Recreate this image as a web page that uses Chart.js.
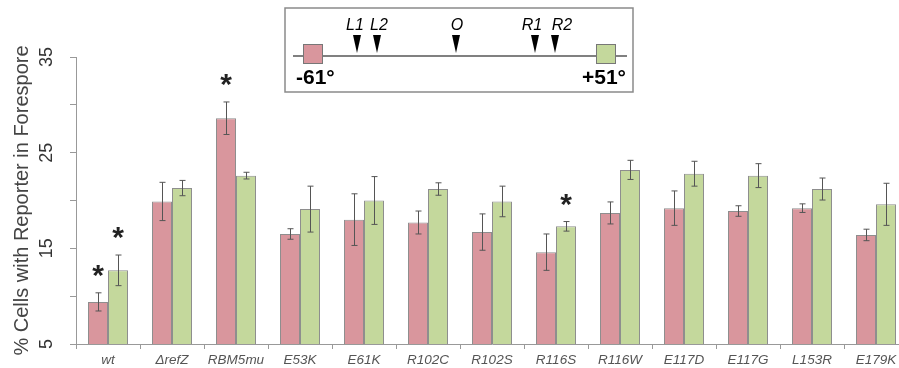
<!DOCTYPE html>
<html>
<head>
<meta charset="utf-8">
<script src="https://cdn.jsdelivr.net/npm/chart.js@4.4.1/dist/chart.umd.min.js"></script>
<style>
  body { margin: 0; background: #fff; overflow: hidden; }
  #wrap { width: 912px; height: 368px; position: relative; }
</style>
</head>
<body>
<div id="wrap"><canvas id="myChart"></canvas></div>
<script>
/*-----data-----*/
var categories = ['wt', '\u0394refZ', 'RBM5mu', 'E53K', 'E61K', 'R102C', 'R102S', 'R116S', 'R116W', 'E117D', 'E117G', 'L153R', 'E179K'];
var leftVals = [9.4, 19.9, 28.6, 16.5, 18.0, 17.7, 16.7, 14.6, 18.7, 19.2, 18.9, 19.2, 16.4];
var leftErr = [0.95, 2.0, 1.7, 0.55, 2.7, 1.2, 1.9, 1.9, 1.15, 1.8, 0.55, 0.45, 0.6];
var rightVals = [12.7, 21.3, 22.6, 19.1, 20.0, 21.2, 19.9, 17.3, 23.2, 22.8, 22.6, 21.2, 19.6];
var rightErr = [1.6, 0.8, 0.35, 2.4, 2.5, 0.65, 1.6, 0.5, 1.0, 1.3, 1.25, 1.15, 2.2];
var yTickLabels = [5, 15, 25, 35];
// significance stars: [dataset, category]
var stars = [[0, 0], [1, 0], [0, 2], [1, 7]];

var pink = '#d9969d',
    green = '#c4d89c',
    edge = '#8e8e8e';

/*------error bars + stars-------*/
var errorPlugin = {
    id: 'errs',
    afterDatasetsDraw: function(chart) {
        var ctx = chart.ctx;
        var y = chart.scales.y;
        var errs = [leftErr, rightErr];
        var vals = [leftVals, rightVals];
        ctx.save();
        ctx.strokeStyle = '#555';
        ctx.lineWidth = 1;
        for (var d = 0; d < 2; d++) {
            var meta = chart.getDatasetMeta(d);
            for (var i = 0; i < meta.data.length; i++) {
                var x = Math.round(meta.data[i].x) + 0.5;
                var top = y.getPixelForValue(vals[d][i] + errs[d][i]);
                var bot = y.getPixelForValue(vals[d][i] - errs[d][i]);
                ctx.beginPath();
                ctx.moveTo(x, top);
                ctx.lineTo(x, bot);
                ctx.moveTo(x - 3, top);
                ctx.lineTo(x + 3, top);
                ctx.moveTo(x - 3, bot);
                ctx.lineTo(x + 3, bot);
                ctx.stroke();
            }
        }
        ctx.fillStyle = '#222';
        ctx.font = 'bold 30px "Liberation Sans", Arial, sans-serif';
        ctx.textAlign = 'center';
        ctx.textBaseline = 'alphabetic';
        for (var s = 0; s < stars.length; s++) {
            var ds = stars[s][0], idx = stars[s][1];
            var bar = chart.getDatasetMeta(ds).data[idx];
            var t = y.getPixelForValue(vals[ds][idx] + errs[ds][idx]);
            ctx.fillText('*', bar.x, t - 8);
        }
        ctx.restore();
    }
};

/*------inset diagram-------*/
var insetPlugin = {
    id: 'inset',
    afterDraw: function(chart) {
        var ctx = chart.ctx;
        ctx.save();
        ctx.fillStyle = '#fff';
        ctx.strokeStyle = '#8a8a8a';
        ctx.lineWidth = 1.5;
        ctx.fillRect(285, 8, 348, 84);
        ctx.strokeRect(285, 8, 348, 84);

        ctx.strokeStyle = '#808080';
        ctx.lineWidth = 2;
        ctx.beginPath();
        ctx.moveTo(293, 56);
        ctx.lineTo(627, 56);
        ctx.stroke();

        ctx.lineWidth = 1;
        ctx.strokeStyle = '#777';
        ctx.fillStyle = pink;
        ctx.fillRect(303.5, 44.5, 19, 19);
        ctx.strokeRect(303.5, 44.5, 19, 19);
        ctx.fillStyle = green;
        ctx.fillRect(596.5, 44.5, 19, 19);
        ctx.strokeRect(596.5, 44.5, 19, 19);

        var marks = [['L1', 357, 355], ['L2', 377, 379], ['O', 456, 457], ['R1', 535, 532], ['R2', 555, 562]];
        ctx.fillStyle = '#000';
        ctx.font = 'italic 16px "Liberation Sans", Arial, sans-serif';
        ctx.textAlign = 'center';
        ctx.textBaseline = 'alphabetic';
        for (var i = 0; i < marks.length; i++) {
            var mx = marks[i][1];
            ctx.beginPath();
            ctx.moveTo(mx - 4, 35);
            ctx.lineTo(mx + 4, 35);
            ctx.lineTo(mx, 53);
            ctx.closePath();
            ctx.fill();
            ctx.fillText(marks[i][0], marks[i][2], 30);
        }

        ctx.font = 'bold 21px "Liberation Sans", Arial, sans-serif';
        ctx.textAlign = 'left';
        ctx.fillText('-61\u00b0', 296, 84);
        ctx.textAlign = 'right';
        ctx.fillText('+51\u00b0', 626, 84);
        ctx.restore();
    }
};

/*------chart---------*/
var ctx = document.getElementById('myChart').getContext('2d');
var myChart = new Chart(ctx, {
    type: 'bar',
    data: {
        labels: categories,
        datasets: [{
            label: '-61\u00b0',
            data: leftVals,
            backgroundColor: pink,
            borderColor: edge,
            borderWidth: 1
        }, {
            label: '+51\u00b0',
            data: rightVals,
            backgroundColor: green,
            borderColor: edge,
            borderWidth: 1
        }]
    },
    options: {
        responsive: true,
        maintainAspectRatio: false,
        animation: false,
        layout: { padding: { top: 57, right: 4, left: 0, bottom: 0 } },
        datasets: { bar: { categoryPercentage: 0.625, barPercentage: 1 } },
        plugins: {
            legend: { display: false },
            tooltip: { enabled: false }
        },
        scales: {
            x: {
                grid: { drawOnChartArea: false, drawTicks: true, tickLength: 5, color: '#999', offset: true },
                border: { color: '#999' },
                ticks: {
                    color: '#555',
                    padding: 3,
                    maxRotation: 0,
                    autoSkip: false,
                    font: { family: '"Liberation Sans", Arial, sans-serif', size: 13.5, style: 'italic' }
                },
                afterFit: function(s) { s.height = 24; }
            },
            y: {
                min: 5,
                max: 35,
                grid: { drawOnChartArea: false, drawTicks: true, tickLength: 6, color: '#999' },
                border: { color: '#999' },
                ticks: {
                    stepSize: 5,
                    color: '#333',
                    minRotation: 90,
                    maxRotation: 90,
                    crossAlign: 'center',
                    padding: 13,
                    font: { family: '"Liberation Sans", Arial, sans-serif', size: 18 },
                    callback: function(v) { return yTickLabels.indexOf(v) >= 0 ? String(v) : ''; }
                },
                title: {
                    display: true,
                    text: '% Cells with Reporter in Forespore',
                    color: '#444',
                    padding: { top: 10, bottom: 0 },
                    font: { family: '"Liberation Sans", Arial, sans-serif', size: 20, lineHeight: 1.2 }
                },
                afterFit: function(s) { s.width = 76; }
            }
        }
    },
    plugins: [errorPlugin, insetPlugin]
});
</script>
</body>
</html>
